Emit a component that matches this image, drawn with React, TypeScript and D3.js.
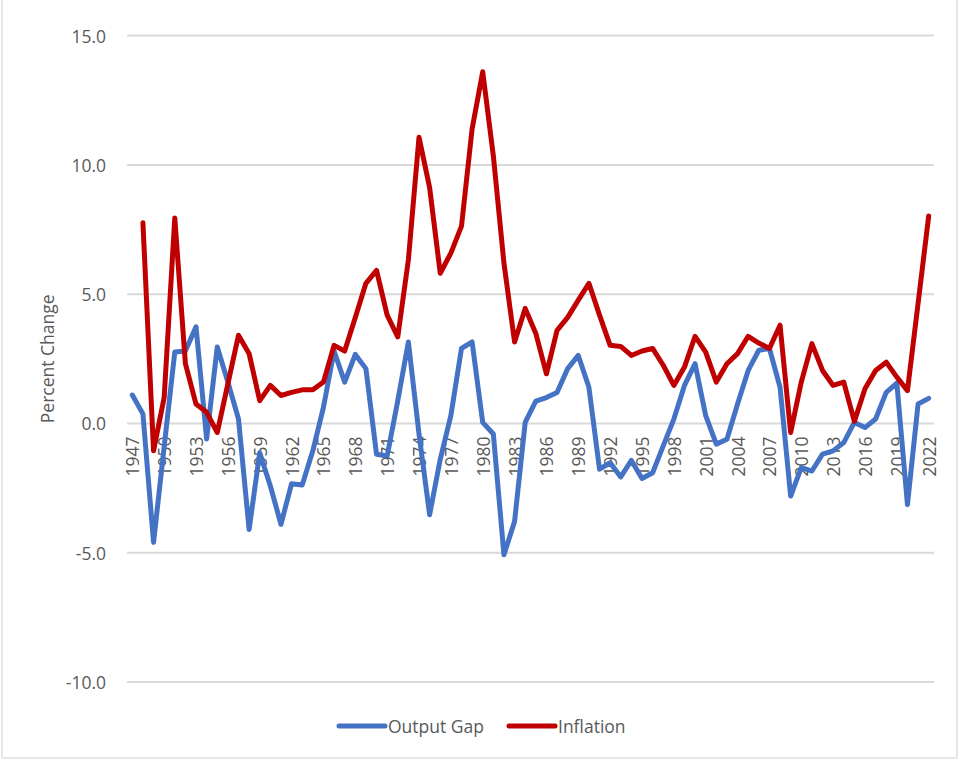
import React from "react";
import * as d3 from "d3";

const years: number[] = d3.range(1947, 2023);

const outputGap: number[] = [
  1.1, 0.37, -4.6, -0.9, 2.76, 2.8, 3.74, -0.6, 2.96, 1.6,
  0.17, -4.1, -1.13, -2.42, -3.9, -2.33, -2.38, -1.06, 0.62, 2.8,
  1.6, 2.67, 2.12, -1.19, -1.26, 0.88, 3.15, -0.41, -3.53, -1.39,
  0.3, 2.9, 3.15, 0.04, -0.41, -5.08, -3.79, 0.04, 0.86, 1.0,
  1.2, 2.12, 2.63, 1.4, -1.77, -1.52, -2.07, -1.43, -2.13, -1.91,
  -0.87, 0.17, 1.47, 2.31, 0.3, -0.8, -0.61, 0.75, 2.05, 2.83,
  2.9, 1.4, -2.81, -1.71, -1.84, -1.19, -1.06, -0.74, 0.04, -0.16,
  0.17, 1.2, 1.56, -3.14, 0.75, 0.97,
];

const inflation: (number | null)[] = [
  null, 7.76, -1.06, 1.0, 7.95, 2.31, 0.75, 0.43, -0.35, 1.53,
  3.41, 2.7, 0.88, 1.47, 1.08, 1.2, 1.3, 1.3, 1.6, 3.02,
  2.8, 4.1, 5.42, 5.92, 4.19, 3.35, 6.33, 11.07, 9.12, 5.81,
  6.59, 7.63, 11.39, 13.6, 10.35, 6.2, 3.15, 4.45, 3.48, 1.92,
  3.6, 4.1, 4.77, 5.42, 4.19, 3.02, 2.98, 2.63, 2.8, 2.9,
  2.25, 1.47, 2.18, 3.37, 2.76, 1.6, 2.31, 2.7, 3.37, 3.11,
  2.9, 3.8, -0.35, 1.6, 3.09, 2.05, 1.47, 1.6, 0.08, 1.34,
  2.05, 2.37, 1.79, 1.27, 4.64, 8.02,
];

const yTicks: number[] = [-10, -5, 0, 5, 10, 15];
const labelYears: number[] = years.filter((y) => (y - 1947) % 3 === 0);

const seriesNames = ["Output Gap", "Inflation"];
const seriesColors = ["#4472C4", "#C00000"];

const W = 958;
const H = 759;
const FONT = "'Open Sans', sans-serif";
const TEXT = "#595959";

export default function App() {
  const left = 127;
  const right = 934;
  const top = 35.6;
  const bottom = 682;

  const x = d3
    .scaleBand<number>()
    .domain(years)
    .range([left, right]);
  const cx = (yr: number) => (x(yr) as number) + x.bandwidth() / 2;
  const y = d3.scaleLinear().domain([-10, 15]).range([bottom, top]);

  const lineGap = d3
    .line<number>()
    .x((_, i) => cx(years[i]))
    .y((d) => y(d));
  const lineInf = d3
    .line<number | null>()
    .defined((d) => d !== null)
    .x((_, i) => cx(years[i]))
    .y((d) => y(d as number));

  const fmt = (t: number) => t.toFixed(1);
  const legendY = 726;

  return (
    <svg
      width={W}
      height={H}
      style={{ position: "absolute", left: 0, top: 0, background: "#fff" }}
      fontFamily={FONT}
    >
      <rect x={0} y={0} width={W} height={H} fill="#fff" />
      <rect x={2} y={-5} width={955} height={763} fill="none" stroke="#d9d9d9" strokeWidth={1.2} />
      {yTicks.map((t) => (
        <g key={t}>
          <line x1={left} x2={right} y1={y(t)} y2={y(t)} stroke="#d9d9d9" strokeWidth={2} />
          <text
            x={106}
            y={y(t)}
            textAnchor="end"
            dominantBaseline="central"
            fontSize={17.5}
            fill={TEXT}
          >
            {fmt(t)}
          </text>
        </g>
      ))}
      {labelYears.map((yr) => (
        <text
          key={yr}
          transform={`translate(${cx(yr)},${y(0) + 13}) rotate(-90)`}
          textAnchor="end"
          dominantBaseline="central"
          fontSize={17.5}
          fill={TEXT}
        >
          {yr}
        </text>
      ))}
      <text
        transform={`translate(47,${(top + bottom) / 2}) rotate(-90)`}
        textAnchor="middle"
        dominantBaseline="central"
        fontSize={17.5}
        fill={TEXT}
      >
        Percent Change
      </text>
      <path
        d={lineGap(outputGap) || ""}
        fill="none"
        stroke={seriesColors[0]}
        strokeWidth={5}
        strokeLinejoin="round"
        strokeLinecap="round"
      />
      <path
        d={lineInf(inflation) || ""}
        fill="none"
        stroke={seriesColors[1]}
        strokeWidth={5}
        strokeLinejoin="round"
        strokeLinecap="round"
      />
      {seriesNames.map((name, i) => {
        const x0 = i === 0 ? 339 : 509;
        return (
          <g key={name}>
            <line
              x1={x0}
              x2={x0 + 46}
              y1={legendY}
              y2={legendY}
              stroke={seriesColors[i]}
              strokeWidth={5}
              strokeLinecap="round"
            />
            <text
              x={x0 + 49}
              y={legendY}
              dominantBaseline="central"
              fontSize={17.5}
              fill={TEXT}
            >
              {name}
            </text>
          </g>
        );
      })}
    </svg>
  );
}
